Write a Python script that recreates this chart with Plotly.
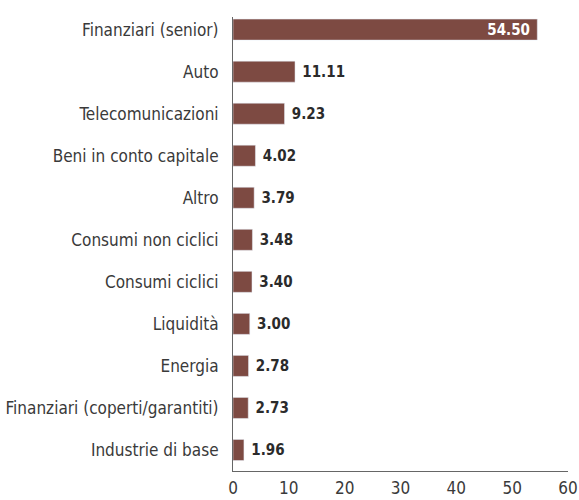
import plotly.graph_objects as go

categories = [
    "Finanziari (senior)",
    "Auto",
    "Telecomunicazioni",
    "Beni in conto capitale",
    "Altro",
    "Consumi non ciclici",
    "Consumi ciclici",
    "Liquidità",
    "Energia",
    "Finanziari (coperti/garantiti)",
    "Industrie di base",
]
values = [54.50, 11.11, 9.23, 4.02, 3.79, 3.48, 3.40, 3.00, 2.78, 2.73, 1.96]
x_ticks = [0, 10, 20, 30, 40, 50, 60]

font_name = "DejaVu Sans Condensed, Liberation Sans Narrow, Roboto, sans-serif"
bar_colour = "#7d4a42"

positions = ["inside" if i == 0 else "outside" for i in range(len(values))]
text_colours = ["#ffffff" if i == 0 else "#2b2b2b" for i in range(len(values))]
labels = []
for i, v in enumerate(values):
    if i == 0:
        labels.append("<b>%.2f</b>\u00a0" % v)
    else:
        labels.append("\u00a0<b>%.2f</b>" % v)

trace = go.Bar(
    x=values,
    y=categories,
    orientation="h",
    marker=dict(color=bar_colour),
    width=0.5,
    text=labels,
    textposition=positions,
    insidetextanchor="end",
    constraintext="none",
    textfont=dict(family=font_name, size=15, color=text_colours),
    cliponaxis=False,
)

layout = go.Layout(
    width=579,
    height=500,
    showlegend=False,
    plot_bgcolor="white",
    paper_bgcolor="white",
    margin=dict(l=233, r=11, t=17, b=29, autoexpand=False),
    font=dict(family=font_name, size=17, color="#3a3a3a"),
    xaxis=dict(
        range=[0, 60],
        tickvals=x_ticks,
        showgrid=False,
        zeroline=False,
        showline=True,
        linecolor="#666666",
        linewidth=1,
        ticks="",
        ticklabelstandoff=2,
        tickfont=dict(size=17, color="#3a3a3a"),
    ),
    yaxis=dict(
        range=[10.5, -0.3],
        showgrid=False,
        zeroline=False,
        showline=True,
        linecolor="#666666",
        linewidth=1,
        ticks="",
        ticklabelstandoff=10,
        tickfont=dict(size=17, color="#3a3a3a"),
    ),
)

fig = go.Figure(data=[trace], layout=layout)
# the page body has a default 8px margin; drop it so the 579x500 figure fits the window
fig.write_html(
    "out.html",
    config={"displayModeBar": False},
    post_script="document.body.style.margin = '0';",
)
